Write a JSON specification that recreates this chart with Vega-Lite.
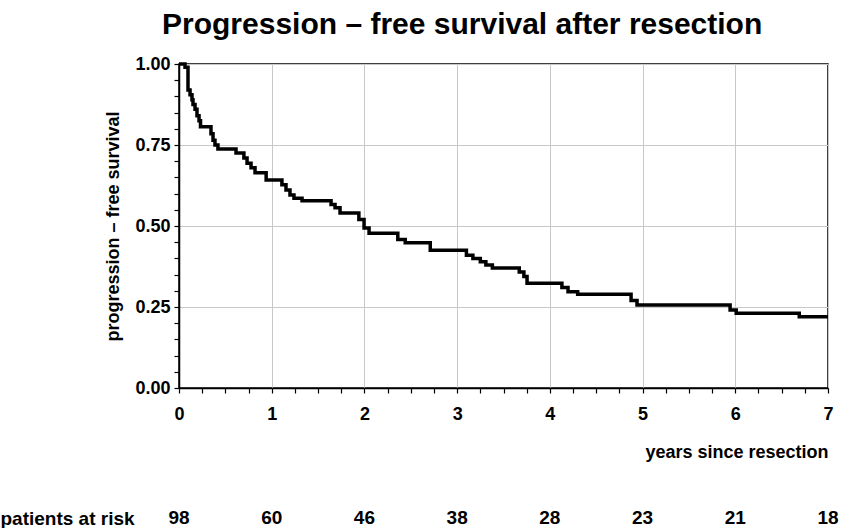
{
  "$schema": "https://vega.github.io/schema/vega-lite/v6.json",
  "background": "white",
  "padding": {"left": 0, "top": 10, "right": 0, "bottom": 0},
  "title": {
    "text": "Progression – free survival after resection",
    "anchor": "start",
    "frame": "group",
    "dx": -17,
    "font": "Liberation Sans",
    "fontSize": 30,
    "fontWeight": "bold",
    "color": "black",
    "offset": 14
  },
  "config": {"view": {"stroke": null}, "font": "Liberation Sans"},
  "spacing": 46,
  "vconcat": [
    {
      "width": 649,
      "height": 324,
      "view": {"stroke": "black", "strokeWidth": 1.5},
      "data": {
        "values": [
          {"years": 0, "survival": 1.0},
          {"years": 0.065, "survival": 0.99},
          {"years": 0.097, "survival": 0.92},
          {"years": 0.119, "survival": 0.905},
          {"years": 0.14, "survival": 0.89},
          {"years": 0.151, "survival": 0.875},
          {"years": 0.173, "survival": 0.86},
          {"years": 0.194, "survival": 0.84},
          {"years": 0.216, "survival": 0.825},
          {"years": 0.232, "survival": 0.806},
          {"years": 0.345, "survival": 0.785},
          {"years": 0.367, "survival": 0.765},
          {"years": 0.388, "survival": 0.75},
          {"years": 0.42, "survival": 0.738},
          {"years": 0.615, "survival": 0.725},
          {"years": 0.7, "survival": 0.71},
          {"years": 0.734, "survival": 0.694},
          {"years": 0.777, "survival": 0.68},
          {"years": 0.82, "survival": 0.664},
          {"years": 0.94, "survival": 0.642},
          {"years": 1.11, "survival": 0.627},
          {"years": 1.154, "survival": 0.611},
          {"years": 1.197, "survival": 0.596},
          {"years": 1.24, "survival": 0.586},
          {"years": 1.327, "survival": 0.578},
          {"years": 1.64, "survival": 0.566},
          {"years": 1.683, "survival": 0.556},
          {"years": 1.737, "survival": 0.54},
          {"years": 1.94, "survival": 0.52},
          {"years": 1.996, "survival": 0.494},
          {"years": 2.05, "survival": 0.478},
          {"years": 2.36, "survival": 0.458},
          {"years": 2.44, "survival": 0.448},
          {"years": 2.71, "survival": 0.425},
          {"years": 3.1, "survival": 0.41},
          {"years": 3.17, "survival": 0.4},
          {"years": 3.25, "survival": 0.39},
          {"years": 3.31, "survival": 0.38},
          {"years": 3.38, "survival": 0.37},
          {"years": 3.67, "survival": 0.358},
          {"years": 3.72, "survival": 0.344},
          {"years": 3.754, "survival": 0.323},
          {"years": 4.13, "survival": 0.31},
          {"years": 4.196, "survival": 0.297},
          {"years": 4.3, "survival": 0.289},
          {"years": 4.876, "survival": 0.27},
          {"years": 4.94, "survival": 0.256},
          {"years": 5.944, "survival": 0.241},
          {"years": 6.01, "survival": 0.231},
          {"years": 6.69, "survival": 0.22},
          {"years": 7, "survival": 0.22}
        ]
      },
      "mark": {"type": "line", "interpolate": "step-after", "color": "black", "strokeWidth": 3.5},
      "encoding": {
        "x": {
          "field": "years",
          "type": "quantitative",
          "scale": {"domain": [0, 7], "nice": false},
          "axis": {
            "values": [0, 0.25, 0.5, 0.75, 1, 1.25, 1.5, 1.75, 2, 2.25, 2.5, 2.75, 3, 3.25, 3.5, 3.75, 4, 4.25, 4.5, 4.75, 5, 5.25, 5.5, 5.75, 6, 6.25, 6.5, 6.75, 7],
            "labelExpr": "abs(datum.value - round(datum.value)) < 0.001 ? format(datum.value, 'd') : ''",
            "labelFlush": false,
            "labelOverlap": false,
            "grid": true,
            "gridColor": {"condition": {"test": "abs(datum.value - round(datum.value)) < 0.001", "value": "#c8c8c8"}, "value": "rgba(0,0,0,0)"},
            "gridWidth": 1,
            "domainColor": "black",
            "domainWidth": 1.5,
            "tickColor": "black",
            "tickWidth": 1.2,
            "tickSize": 5,
            "labelPadding": 12,
            "labelFont": "Liberation Sans",
            "labelFontSize": 18,
            "labelFontWeight": "bold",
            "labelColor": "black",
            "title": "years since resection",
            "titleAnchor": "end",
            "titleFont": "Liberation Sans",
            "titleFontSize": 18,
            "titleFontWeight": "bold",
            "titleColor": "black",
            "titlePadding": 20
          }
        },
        "y": {
          "field": "survival",
          "type": "quantitative",
          "scale": {"domain": [0, 1], "nice": false},
          "axis": {
            "values": [0, 0.05, 0.1, 0.15, 0.2, 0.25, 0.3, 0.35, 0.4, 0.45, 0.5, 0.55, 0.6, 0.65, 0.7, 0.75, 0.8, 0.85, 0.9, 0.95, 1],
            "labelExpr": "abs(datum.value * 4 - round(datum.value * 4)) < 0.001 ? format(datum.value, '.2f') : ''",
            "labelFlush": false,
            "labelOverlap": false,
            "grid": true,
            "gridColor": {"condition": {"test": "abs(datum.value * 4 - round(datum.value * 4)) < 0.001", "value": "#c8c8c8"}, "value": "rgba(0,0,0,0)"},
            "gridWidth": 1,
            "domainColor": "black",
            "domainWidth": 1.5,
            "tickColor": "black",
            "tickWidth": 1.2,
            "tickSize": 5,
            "labelPadding": 4,
            "labelFont": "Liberation Sans",
            "labelFontSize": 18,
            "labelFontWeight": "bold",
            "labelColor": "black",
            "title": "progression – free survival",
            "titleFont": "Liberation Sans",
            "titleFontSize": 18,
            "titleFontWeight": "bold",
            "titleColor": "black",
            "titlePadding": 12
          }
        }
      }
    },
    {
      "width": 649,
      "height": 20,
      "data": {
        "values": [
          {"years": 0, "n": 98},
          {"years": 1, "n": 60},
          {"years": 2, "n": 46},
          {"years": 3, "n": 38},
          {"years": 4, "n": 28},
          {"years": 5, "n": 23},
          {"years": 6, "n": 21},
          {"years": 7, "n": 18}
        ]
      },
      "mark": {"type": "text", "font": "Liberation Sans", "fontSize": 19, "fontWeight": "bold", "color": "black", "baseline": "middle"},
      "encoding": {
        "x": {"field": "years", "type": "quantitative", "scale": {"domain": [0, 7], "nice": false}, "axis": null},
        "y": {
          "datum": "patients at risk",
          "type": "nominal",
          "axis": {
            "title": null,
            "domain": false,
            "ticks": false,
            "tickSize": 0,
            "grid": false,
            "labelAlign": "left",
            "labelPadding": 179,
            "labelLimit": 0,
            "labelFont": "Liberation Sans",
            "labelFontSize": 19,
            "labelFontWeight": "bold",
            "labelColor": "black"
          }
        },
        "text": {"field": "n", "type": "quantitative"}
      }
    }
  ]
}
